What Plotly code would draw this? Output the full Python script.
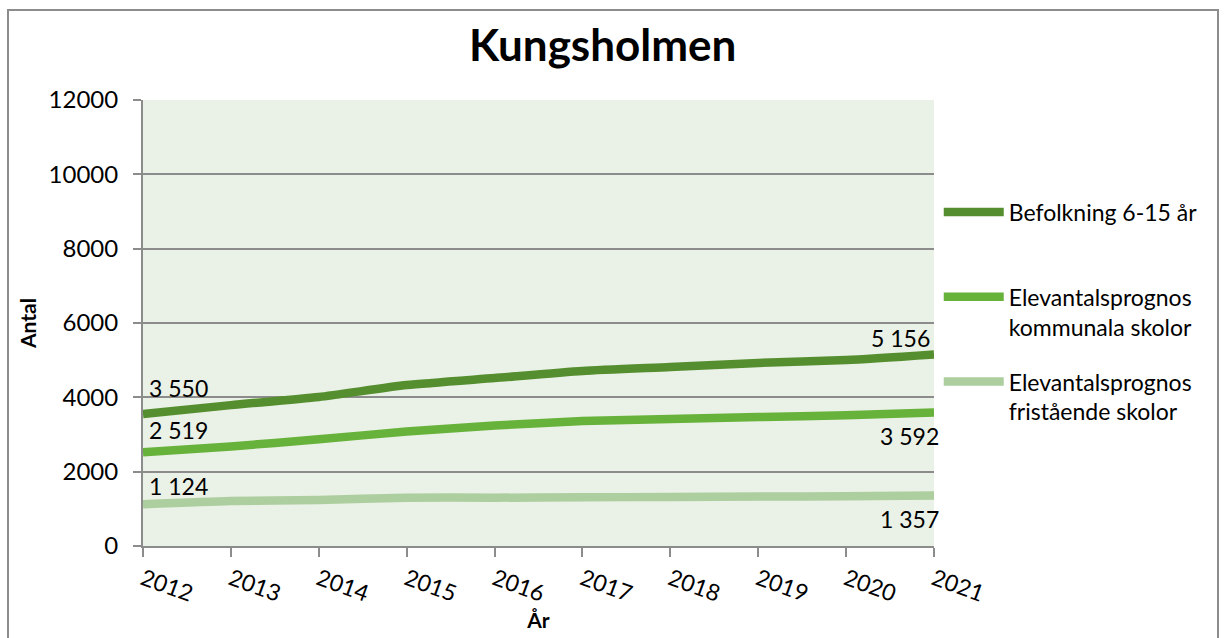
import plotly.graph_objects as go

years = [2012, 2013, 2014, 2015, 2016, 2017, 2018, 2019, 2020, 2021]
befolkning = [3550, 3790, 4010, 4330, 4520, 4710, 4815, 4925, 5005, 5156]
kommunala = [2519, 2680, 2870, 3080, 3240, 3360, 3420, 3470, 3520, 3592]
fristaende = [1124, 1210, 1240, 1300, 1300, 1310, 1320, 1330, 1340, 1357]

names = ["Befolkning 6-15 år<br> ", "Elevantalsprognos<br>kommunala skolor",
         "Elevantalsprognos<br>fristående skolor"]
colors = ["#558E2F", "#67B23A", "#ADCE9E"]
series = [befolkning, kommunala, fristaende]

FONT = "Lato"
fig = go.Figure()
for i, (nm, col, vals) in enumerate(zip(names, colors, series)):
    fig.add_trace(go.Scatter(
        x=years, y=vals, mode="lines", name=nm, legendgroup=str(i),
        line=dict(color=col, width=8.5, shape="spline", smoothing=0.6),
        hoverinfo="skip",
    ))

def fmt(v):
    return f"{v:,}".replace(",", " ")

LBL = dict(size=23, color="#000", family=FONT)
ann = []
for vals, dy in [(befolkning, 10), (kommunala, 6), (fristaende, 2)]:
    ann.append(dict(x=years[0], y=vals[0], text=fmt(vals[0]), showarrow=False,
                    xanchor="left", yanchor="bottom", xshift=4, yshift=dy, font=LBL))
ann.append(dict(x=years[-1], y=befolkning[-1], text=fmt(befolkning[-1]), showarrow=False,
                xanchor="right", yanchor="bottom", xshift=-2, yshift=0, font=LBL))
for vals in [kommunala, fristaende]:
    ann.append(dict(x=years[-1], y=vals[-1], text=fmt(vals[-1]), showarrow=False,
                    xanchor="right", yanchor="top", xshift=7, yshift=-7, font=LBL))

fig.update_layout(
    width=1225, height=638,
    margin=dict(l=143, r=291, t=100, b=92),
    paper_bgcolor="white", plot_bgcolor="#EAF1E6",
    font=dict(family=FONT, size=20, color="#000"),
    title=dict(text="<b>Kungsholmen</b>", x=0.492, xanchor="center", y=0.928, yanchor="middle",
               font=dict(size=44, family=FONT, color="#000")),
    xaxis=dict(range=[2012, 2021], tickmode="array", tickvals=years,
               ticktext=[str(y) for y in years], tickangle=20,
               showgrid=False, showline=True, linecolor="#8C8C8C", linewidth=2,
               ticks="outside", ticklen=9, tickcolor="#8C8C8C", tickwidth=2,
               tickfont=dict(size=23, family=FONT),
               title=dict(text="<b>År</b>", font=dict(size=21, family=FONT), standoff=4),
               zeroline=False),
    yaxis=dict(range=[0, 12000], tickvals=[0, 2000, 4000, 6000, 8000, 10000, 12000],
               ticktext=["0", "2000", "4000", "6000", "8000", "10000", "12000"],
               showgrid=True, gridcolor="#8C8C8C", gridwidth=2,
               showline=True, linecolor="#8C8C8C", linewidth=2,
               ticks="outside", ticklen=8, tickcolor="#8C8C8C", tickwidth=2,
               ticklabelstandoff=10,
               tickfont=dict(size=24, family=FONT),
               title=dict(text="<b>Antal</b>", font=dict(size=21, family=FONT), standoff=6),
               zeroline=False),
    legend=dict(x=1.006, y=0.797, xanchor="left", yanchor="top",
                font=dict(size=23, family=FONT), valign="top",
                tracegroupgap=22, itemwidth=60, bgcolor="rgba(0,0,0,0)"),
    annotations=ann,
    shapes=[dict(type="rect", xref="paper", yref="paper",
                 x0=(8 - 143) / 791, x1=(1218 - 143) / 791,
                 y0=(546 - 660) / 446, y1=(546 - 10) / 446,
                 line=dict(color="#8C8C8C", width=2), layer="below")],
)

fig.write_html("out.html", config={"displayModeBar": False},
               post_script="document.body.style.margin='0';")
